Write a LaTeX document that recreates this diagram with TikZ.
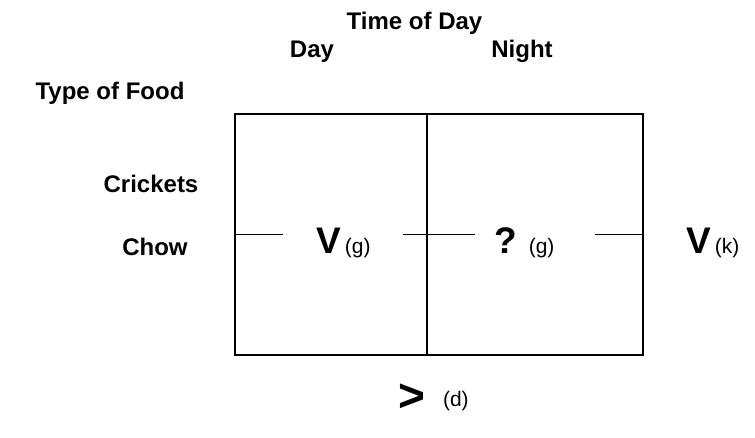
\documentclass[tikz,border=0pt]{standalone}
\usepackage{fontspec}
\setmainfont{Liberation Sans}
\usetikzlibrary{positioning}

\newcommand{\bigsym}[1]{{\fontsize{37}{42}\selectfont\bfseries #1}}
\newcommand{\hugesym}[1]{{\fontsize{46}{52}\selectfont\bfseries #1}}
\newcommand{\unitsub}[1]{{\fontsize{21}{24}\selectfont #1}}

\begin{document}
\begin{tikzpicture}[
x=1pt,
y=-1pt,
heading/.style={
font=\fontsize{24}{28}\selectfont\bfseries,
inner sep=0pt,
anchor=base
},
cell/.style={
rectangle,
draw,
line width=1.5pt,
minimum height=241pt,
inner sep=0pt
},
value/.style={
inner sep=0pt,
anchor=base west
},
bar/.style={
line width=1.5pt
}
]
\useasboundingbox (0,0) rectangle (755,438);

% headings
\node[heading] (time) at (414.5,30) {Time of Day};
\node[heading] (day) at (312,58) {Day};
\node[heading] (night) at (522,58) {Night};
\node[heading] (food) at (110,100) {Type of Food};
\node[heading] (crickets) at (151,193) {Crickets};
\node[heading] (chow) at (155,256) {Chow};

% the two cells
\node[cell, minimum width=192pt] (daycell) at (331,234.5) {};
\node[cell, minimum width=216pt] (nightcell) at (535,234.5) {};

% values
\node[value] (vg) at (316,254) {\bigsym{V}\hspace{4pt}\unitsub{(g)}};
\node[value] (qg) at (494,254) {\bigsym{?}\hspace{12pt}\unitsub{(g)}};
\node[value] (vk) at (686,254) {\bigsym{V}\hspace{4pt}\unitsub{(k)}};
\node[value] (gd) at (398,406) {\raisebox{-5pt}{\hugesym{>}}\hspace{18pt}\unitsub{(d)}};

% broken middle line
\coordinate (g1) at (283,234.5);
\coordinate (g2) at (403,234.5);
\coordinate (g3) at (475,234.5);
\coordinate (g4) at (595,234.5);
\draw[bar] (daycell.west) -- (g1);
\draw[bar] (g2) -- (g3);
\draw[bar] (g4) -- (nightcell.east);

\end{tikzpicture}
\end{document}
